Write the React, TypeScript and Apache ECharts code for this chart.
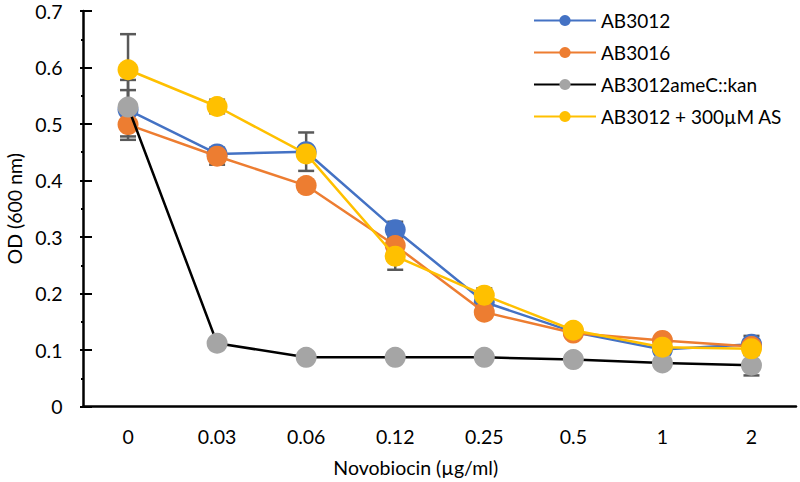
import React, { useEffect, useRef } from "react";
import * as echarts from "echarts";

const categories = ["0", "0.03", "0.06", "0.12", "0.25", "0.5", "1", "2"];
const seriesNames = ["AB3012", "AB3016", "AB3012ameC::kan", "AB3012 + 300µM AS"];
const ab3012 = [0.525, 0.447, 0.451, 0.313, 0.185, 0.132, 0.101, 0.11];
const ab3016 = [0.499, 0.443, 0.391, 0.285, 0.167, 0.13, 0.117, 0.106];
const ameC = [0.53, 0.112, 0.087, 0.087, 0.087, 0.083, 0.077, 0.073];
const withAS = [0.596, 0.531, 0.447, 0.266, 0.197, 0.135, 0.105, 0.102];
const ab3012Err = [0.053, 0.01, 0.034, 0.014, 0.02, 0.008, 0.008, 0.015];
const ab3016Err = [0.021, 0.015, 0.01, 0.01, 0.01, 0.005, 0.005, 0.006];
const ameCErr = [0.03, 0.005, 0.005, 0.005, 0.005, 0.005, 0.005, 0.018];
const withASErr = [0.063, 0.012, 0.006, 0.024, 0.012, 0.005, 0.005, 0.006];
const yTicks = { min: 0, max: 0.7, interval: 0.1 };

const FONT = "Lato";
const colors = ["#4472C4", "#ED7D31", "#A5A5A5", "#FFC000"];
const lineColors = ["#4472C4", "#ED7D31", "#000000", "#FFC000"];

export default function App() {
  const ref = useRef<HTMLDivElement>(null);
  useEffect(() => {
    document.body.style.margin = "0";
    const chart = echarts.init(ref.current!, null, { renderer: "svg" });
    const values = [ab3012, ab3016, ameC, withAS];
    const errs = [ab3012Err, ab3016Err, ameCErr, withASErr];

    const errorSeries = values.map((vals, si) => ({
      type: "custom",
      name: seriesNames[si] + " err",
      z: 1,
      silent: true,
      renderItem: (params: any, api: any) => {
        const x = api.value(0);
        const lo = api.coord([x, api.value(1)]);
        const hi = api.coord([x, api.value(2)]);
        const half = 8;
        const style = { stroke: "#595959", lineWidth: 2.5 };
        return {
          type: "group",
          children: [
            { type: "line", shape: { x1: lo[0], y1: lo[1], x2: hi[0], y2: hi[1] }, style },
            { type: "line", shape: { x1: lo[0] - half, y1: lo[1], x2: lo[0] + half, y2: lo[1] }, style },
            { type: "line", shape: { x1: hi[0] - half, y1: hi[1], x2: hi[0] + half, y2: hi[1] }, style },
          ],
        };
      },
      data: vals.map((v, i) => [i, v - errs[si][i], v + errs[si][i]]),
    }));

    const lineSeries = values.map((vals, si) => ({
      type: "line",
      name: seriesNames[si],
      data: vals,
      z: 2 + si,
      symbol: "circle",
      symbolSize: 21,
      itemStyle: { color: colors[si] },
      lineStyle: { color: lineColors[si], width: 2.5 },
    }));

    const axisText = { fontFamily: FONT, fontSize: 19.5, color: "#000" };

    chart.setOption({
      animation: false,
      textStyle: { fontFamily: FONT },
      grid: { left: 83.5, right: 4, top: 11, bottom: 75.5, containLabel: false, outerBoundsMode: "none" },
      legend: {
        orient: "vertical",
        left: 528,
        top: 6,
        itemWidth: 62,
        itemHeight: 14,
        itemGap: 13,
        data: seriesNames,
        textStyle: { ...axisText, fontSize: 19 },
      },
      xAxis: [
        {
          type: "category",
          data: categories,
          boundaryGap: true,
          name: "Novobiocin (µg/ml)",
          nameLocation: "middle",
          nameGap: 51,
          nameTextStyle: { ...axisText, padding: [0, 48, 0, 0] },
          axisLine: { lineStyle: { color: "#000", width: 2.5 } },
          axisTick: { inside: true, length: 8, lineStyle: { color: "#000", width: 2 } },
          axisLabel: { ...axisText, margin: 20 },
        },
        {
          type: "category",
          data: categories,
          boundaryGap: true,
          position: "bottom",
          gridIndex: 0,
          axisLine: { show: false },
          axisTick: { inside: false, length: 7, lineStyle: { color: "#000", width: 2 } },
          axisLabel: { show: false },
        },
      ],
      yAxis: [
        {
          type: "value",
          min: yTicks.min,
          max: yTicks.max,
          interval: yTicks.interval,
          name: "OD (600 nm)",
          nameLocation: "middle",
          nameGap: 58,
          nameTextStyle: { ...axisText },
          splitLine: { show: false },
          axisLine: { show: true, lineStyle: { color: "#000", width: 2.5 } },
          axisTick: { show: true, inside: true, length: 8.5, lineStyle: { color: "#000", width: 2 } },
          axisLabel: {
            ...axisText,
            margin: 21,
            formatter: (v: number) => (Math.round(v * 10) / 10).toString(),
          },
        },
        {
          type: "value",
          min: yTicks.min,
          max: yTicks.max,
          interval: yTicks.interval,
          position: "left",
          splitLine: { show: false },
          axisLine: { show: false },
          axisTick: { show: true, inside: false, length: 3.5, lineStyle: { color: "#000", width: 2 } },
          minorTick: { show: true, splitNumber: 2, length: 2.5, lineStyle: { color: "#000", width: 2 } },
          axisLabel: { show: false },
        },
      ],
      series: [...errorSeries, ...lineSeries],
    });
    return () => chart.dispose();
  }, []);
  return <div ref={ref} style={{ width: 800, height: 482 }} />;
}
